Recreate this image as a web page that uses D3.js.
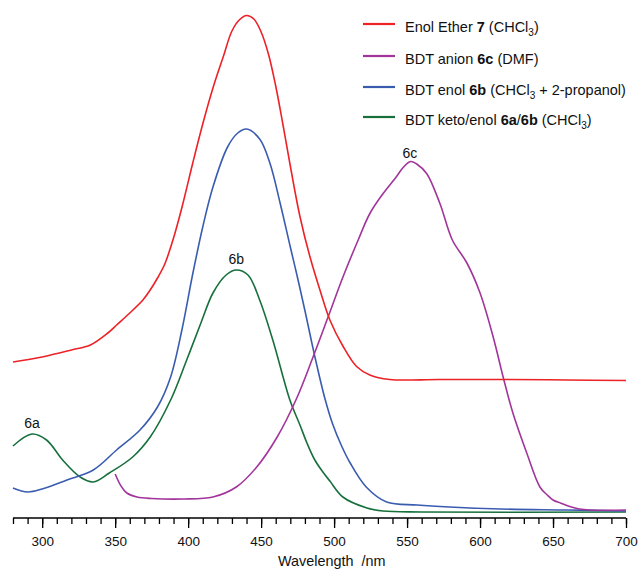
<!DOCTYPE html>
<html>
<head>
<meta charset="utf-8">
<script src="https://cdn.jsdelivr.net/npm/d3@7"></script>
<style>
  body { margin: 0; background: #fff; }
  svg { font-family: 'Liberation Sans', Arial, sans-serif; }
</style>
</head>
<body>
<div id="chart"></div>
<script>
// wavelength (nm) / absorbance (a.u.)
const enolEtherNm = [280, 300, 320, 333, 345, 351, 360, 369, 374, 379, 384, 390, 396, 403, 410, 417, 424, 430, 435, 440, 445, 450, 455, 460, 465, 469.7, 476.6, 483.4, 490.3, 497.1, 506.2, 515.4, 524.5, 538, 572, 620, 660, 700];
const enolEtherAbs = [0.302, 0.312, 0.326, 0.336, 0.360, 0.376, 0.400, 0.426, 0.446, 0.470, 0.498, 0.550, 0.614, 0.698, 0.778, 0.850, 0.912, 0.964, 0.986, 0.995, 0.988, 0.962, 0.918, 0.854, 0.776, 0.699, 0.593, 0.513, 0.446, 0.386, 0.333, 0.293, 0.276, 0.267, 0.267, 0.267, 0.266, 0.265];

const anionNm = [350, 354, 358, 365, 375, 397, 417, 433, 447, 461, 474.3, 485.7, 496, 506.2, 516.5, 524.5, 533.6, 542.8, 547, 552.4, 556.6, 563.4, 572.5, 581, 591, 600, 609, 616, 622.5, 632, 641, 646, 650, 655, 668, 700];
const anionAbs = [0.078, 0.054, 0.040, 0.032, 0.029, 0.028, 0.032, 0.052, 0.092, 0.152, 0.229, 0.313, 0.393, 0.473, 0.546, 0.599, 0.639, 0.673, 0.690, 0.703, 0.698, 0.679, 0.619, 0.546, 0.500, 0.440, 0.352, 0.270, 0.200, 0.120, 0.052, 0.036, 0.026, 0.020, 0.008, 0.006];

const enolNm = [280, 290, 300, 317, 335, 351, 367, 379, 388, 396, 403, 410, 417, 427, 434, 440, 449, 456, 463, 470, 475, 480, 486.8, 493.7, 499, 505, 511, 522, 536, 557, 579, 614, 660, 700];
const enolAbs = [0.050, 0.042, 0.048, 0.066, 0.086, 0.126, 0.166, 0.212, 0.272, 0.370, 0.476, 0.572, 0.652, 0.732, 0.760, 0.768, 0.748, 0.700, 0.620, 0.532, 0.470, 0.405, 0.313, 0.229, 0.178, 0.135, 0.100, 0.052, 0.022, 0.016, 0.012, 0.008, 0.006, 0.004];

const ketoEnolNm = [280, 293, 303, 314, 326, 335, 346, 362, 374, 388, 399, 409, 417, 426, 433, 441, 449, 458, 469.7, 476.6, 481.4, 486.8, 492.3, 497.1, 506, 522.5, 533.4, 560, 700];
const ketoEnolAbs = [0.134, 0.158, 0.146, 0.106, 0.072, 0.062, 0.080, 0.112, 0.152, 0.226, 0.306, 0.382, 0.440, 0.476, 0.486, 0.476, 0.426, 0.346, 0.226, 0.176, 0.140, 0.106, 0.082, 0.064, 0.032, 0.010, 0.004, 0.002, 0.002];

const xTicks = [300, 350, 400, 450, 500, 550, 600, 650, 700];

const peakLabels = ['6a', '6b', '6c'];
const peakNm = [293, 433, 552];
const peakAbs = [0.17, 0.498, 0.71];

const legendColors = ['#ec2227', '#a2359b', '#3a5cb0', '#17703c'];

const width = 638;
const height = 569;

const x = d3.scaleLinear().domain([280, 700]).range([13, 626]);
const y = d3.scaleLinear().domain([0, 1]).range([513, 13]);

const svg = d3.select('#chart').append('svg')
  .attr('width', width)
  .attr('height', height);

const series = [
  { nm: enolEtherNm, abs: enolEtherAbs, color: legendColors[0] },
  { nm: anionNm, abs: anionAbs, color: legendColors[1] },
  { nm: enolNm, abs: enolAbs, color: legendColors[2] },
  { nm: ketoEnolNm, abs: ketoEnolAbs, color: legendColors[3] }
];

const line = d3.line()
  .x(d => x(d[0]))
  .y(d => y(d[1]))
  .curve(d3.curveCatmullRom.alpha(0.5));

// draw back to front so red ends up on top like the original
series.slice().reverse().forEach(s => {
  svg.append('path')
    .datum(d3.zip(s.nm, s.abs))
    .attr('d', line)
    .attr('fill', 'none')
    .attr('stroke', s.color)
    .attr('stroke-width', 1.6)
    .attr('stroke-linejoin', 'round');
});

// x axis: minor every 10 nm, major + labels every 50
const axisY = 518;
const axis = svg.append('g').attr('transform', `translate(0,${axisY})`);
axis.append('g')
  .call(d3.axisBottom(x).tickValues(d3.range(280, 701, 10)).tickSize(6).tickFormat(''))
  .call(g => g.select('.domain').remove());
axis.append('g')
  .call(d3.axisBottom(x).tickValues(xTicks).tickSize(10).tickPadding(8))
  .call(g => g.select('.domain').attr('d', `M${x(280)},0H${x(700)}`));
axis.selectAll('line').attr('stroke', '#000').attr('stroke-width', 1.3);
axis.selectAll('.domain').attr('stroke', '#000').attr('stroke-width', 1.6);
axis.selectAll('text')
  .attr('font-size', '13.5px')
  .attr('font-family', "'Liberation Sans', Arial, sans-serif")
  .attr('fill', '#111');

svg.append('text')
  .attr('x', 278)
  .attr('y', 566)
  .attr('font-size', '14.4px')
  .attr('fill', '#111')
  .text('Wavelength\u00a0\u00a0/nm');

// peak labels
svg.selectAll('.peak')
  .data(peakLabels)
  .enter().append('text')
  .attr('class', 'peak')
  .attr('x', (d, i) => x(peakNm[i]))
  .attr('y', (d, i) => y(peakAbs[i]))
  .attr('text-anchor', 'middle')
  .attr('font-size', '14px')
  .attr('fill', '#111')
  .text(d => d);

// legend
const legendRows = [
  [['Enol Ether ', false], ['7', true], [' (CHCl', false], ['3', 'sub'], [')', false]],
  [['BDT anion ', false], ['6c', true], [' (DMF)', false]],
  [['BDT enol ', false], ['6b', true], [' (CHCl', false], ['3', 'sub'], [' + 2-propanol)', false]],
  [['BDT keto/enol ', false], ['6a', true], ['/', false], ['6b', true], [' (CHCl', false], ['3', 'sub'], [')', false]]
];
const legendY = [24, 56, 87, 117];

const legend = svg.append('g');
legendRows.forEach((row, i) => {
  legend.append('line')
    .attr('x1', 363).attr('x2', 395)
    .attr('y1', legendY[i]).attr('y2', legendY[i])
    .attr('stroke', legendColors[i])
    .attr('stroke-width', 2.2);
  const t = legend.append('text')
    .attr('x', 405)
    .attr('y', legendY[i] + 7.5)
    .attr('font-size', '14.5px')
    .attr('fill', '#111')
    .style('white-space', 'pre');
  row.forEach((part, j) => {
    const span = t.append('tspan').text(part[0]);
    if (part[1] === true) span.attr('font-weight', 'bold');
    if (part[1] === 'sub') {
      span.attr('font-size', '10px').attr('dy', 4);
    } else if (j > 0 && row[j - 1][1] === 'sub') {
      span.attr('dy', -4);
    }
  });
});
</script>
</body>
</html>
